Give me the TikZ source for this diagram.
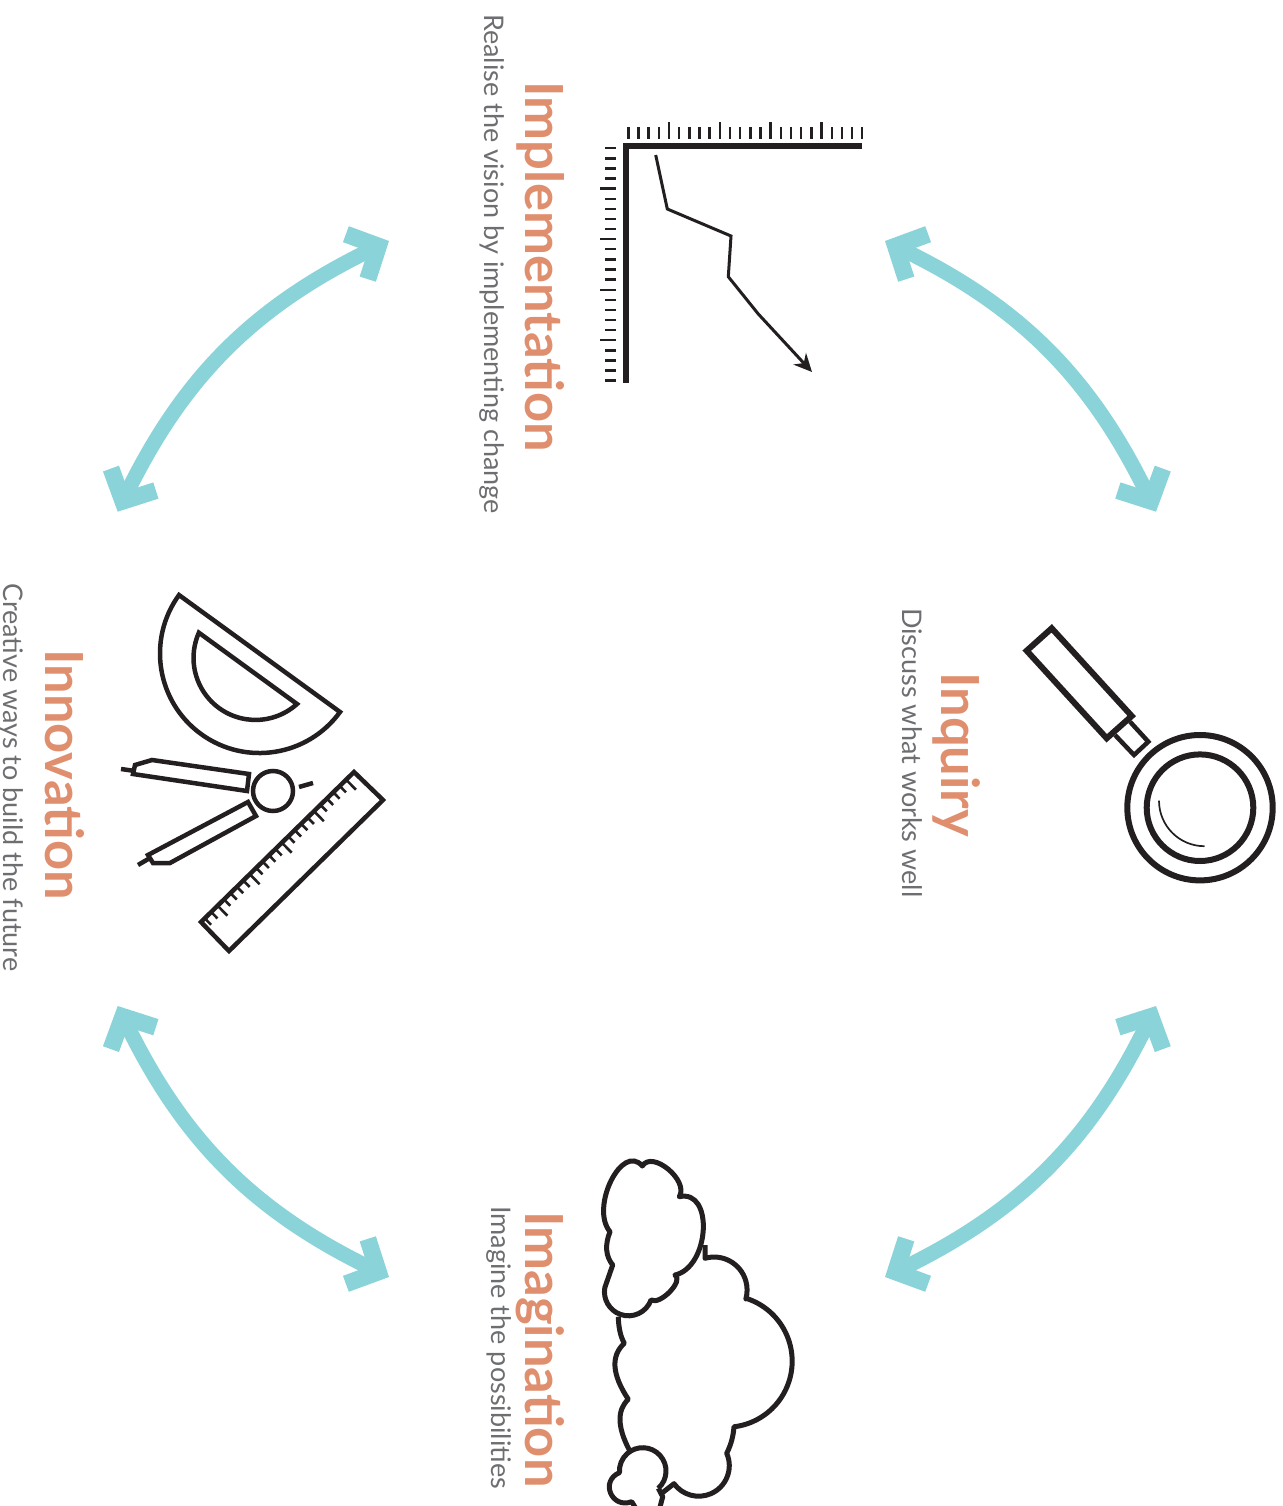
\documentclass[tikz,border=0pt]{standalone}
\usepackage{fontspec}
\setmainfont{Lato}
\usetikzlibrary{arrows.meta, calc}
\definecolor{salmon}{HTML}{E08F6E}
\definecolor{slate}{HTML}{6D6E71}
\definecolor{aqua}{HTML}{8AD3D9}
\definecolor{inkdark}{HTML}{231F20}
\newcommand{\lobe}[3]{.. controls ($1.3333*(#2)-0.3333*(#3)$) and ($1.3333*(#2)-0.3333*(#1)$) .. (#3)}
\newcommand{\bulge}[3]{.. controls ($(#1)+1.3333*(#2)-0.6667*(#1)-0.6667*(#3)$) and ($(#3)+1.3333*(#2)-0.6667*(#1)-0.6667*(#3)$) .. (#3)}
\tikzset{
  title/.style={anchor=base west, inner sep=0pt, rotate=-90, text=salmon, font=\fontsize{52.5}{52.5}\selectfont\bfseries},
  subtitle/.style={anchor=base west, inner sep=0pt, rotate=-90, text=slate, font=\fontsize{27}{27}\selectfont},
  chevron/.tip={Straight Barb[length=24pt, width=50pt, line width=17pt]},
  cyclearrow/.style={chevron-chevron, line width=15pt, aqua},
  icon/.style={draw=inkdark, line width=4.5pt, line join=miter},
  cloudline/.style={icon, line width=5pt, line join=round},
  tickmark/.style={draw=inkdark, line width=2.4pt},
}
\begin{document}
\begin{tikzpicture}[x=1pt, y=-1pt]
\useasboundingbox (0,0) rectangle (1282,1506);

% labels
\node[title] (implT) at (525,81) {Implementation};
\node[subtitle] (implS) at (484,14) {Realise the vision by implementing change};
\node[title] (inquT) at (941,672) {Inquiry};
\node[subtitle] (inquS) at (902,608) {Discuss what works well};
\node[title] (imagT) at (525,1211) {Imagination};
\node[subtitle] (imagS) at (491,1206) {Imagine the possibilities};
\node[title] (innoT) at (45,649) {Innovation};
\node[subtitle] (innoS) at (4,583) {Creative ways to build the future};

% cycle arrows
\coordinate (implW) at (389,241);
\coordinate (innoN) at (117.7,511.7);
\coordinate (innoB) at (117.7,1006);
\coordinate (imagW) at (389,1277);
\coordinate (imagE) at (885,1277);
\coordinate (inquB) at (1156,1006);
\coordinate (inquN) at (1156,511.7);
\coordinate (implE) at (885,241);
\draw[cyclearrow] (implW) to[bend right=19] (innoN);
\draw[cyclearrow] (innoB) to[bend right=19] (imagW);
\draw[cyclearrow] (imagE) to[bend right=19] (inquB);
\draw[cyclearrow] (inquN) to[bend right=19] (implE);

% chart
\draw[icon, line width=6pt] (862,146) -- (626,146) -- (626,383);
\foreach \i in {0,...,23}{
  \pgfmathsetmacro{\tx}{628.3+10.17*\i}
  \pgfmathsetmacro{\ty}{148.3+10.1*\i}
  \pgfmathsetmacro{\tl}{int(mod(\i,5))==4 ? 5 : 0}
  \draw[tickmark] (\tx,139) -- (\tx,127-\tl);
  \draw[tickmark] (616,\ty) -- (605-\tl,\ty);
}
\draw[draw=inkdark, line width=3pt, -{Stealth[length=18pt, width=17pt]}] (655.7,155) -- (667.3,209) -- (731,236) -- (728.3,276.7) -- (758.3,314) -- (812,372);

% magnifier
\draw[icon, line width=6pt] (1051.7,628.3) -- (1131.7,716) -- (1106.7,738.3) -- (1026.7,650.7) -- cycle;
\draw[icon] (1130,721.7) -- (1148.3,741.7) -- (1134,755) -- (1115,735);
\draw[icon, line width=6pt] (1200,807.7) circle (72.7);
\draw[icon, line width=6pt] (1200,807.7) circle (53.3);
\draw[draw=inkdark, line width=1.7pt] (1159,800.7) arc (180:90:45.5);

% protractor
\draw[icon] (340,712) arc (36:216:99.5) -- cycle;
\draw[icon] (297,704) arc (48:204:62) -- cycle;

% compass
\draw[icon] (135,765) -- (152,760) -- (249,774) -- (247,791) -- (133,774) -- cycle;
\draw[icon] (121,769) -- (135,771);
\draw[icon] (248,802) -- (256,816) -- (170,863) -- (153,863) -- (148,855) -- cycle;
\draw[icon] (138,865) -- (150,858);
\draw[icon] (273,791) circle (20);
\draw[icon] (299,787) -- (313,783);

% ruler
\draw[icon] (354,772) -- (383,800) -- (229,951) -- (201,922) -- cycle;
\foreach \i in {0,...,22}{
  \pgfmathsetmacro{\tl}{int(mod(\i,5))==0 ? 14 : 9}
  \coordinate (rulerP) at ($(354,772)!\i*9pt+11pt!(201,922)$);
  \draw[draw=inkdark, line width=2.6pt] (rulerP) -- ++(0.7*\tl,0.714*\tl);
}

% clouds
\draw[cloudline] (642.3,1166) \bulge{642.3,1166}{668.3,1169.3}{679.3,1196.7}
  \bulge{679.3,1196.7}{703.3,1230}{675,1275}
  \bulge{675,1275}{670,1291.7}{651,1300}
  arc (20:190:24) -- (612.7,1265)
  \lobe{612.7,1265}{606.7,1250}{610,1231.7}
  \bulge{610,1231.7}{611,1181}{642.3,1166} -- cycle;
\draw[cloudline] (705,1245) -- (705,1258.3)
  arc (-106:15.7:33)
  -- (746,1298.3) arc (-72.5:83.2:66)
  \lobe{733.3,1426.7}{731.7,1440}{726.7,1453.3}
  arc (-23.7:143.8:30.6)
  -- (661.7,1493.3);
\draw[cloudline] (618.3,1316.7) \lobe{618.3,1316.7}{620,1331.7}{624.3,1343.3}
  \lobe{624.3,1343.3}{615,1366.7}{628.3,1399.3}
  \lobe{628.3,1399.3}{620,1420}{629.3,1450};
\draw[cloudline] (658.3,1488.3) arc (48:-184:23.3)
  \bulge{620,1473.3}{610.7,1493.3}{631.7,1501.7} -- (635,1507);
\draw[cloudline] (658.3,1488.3) -- (662.7,1496.7) -- (660,1507);
\end{tikzpicture}
\end{document}
